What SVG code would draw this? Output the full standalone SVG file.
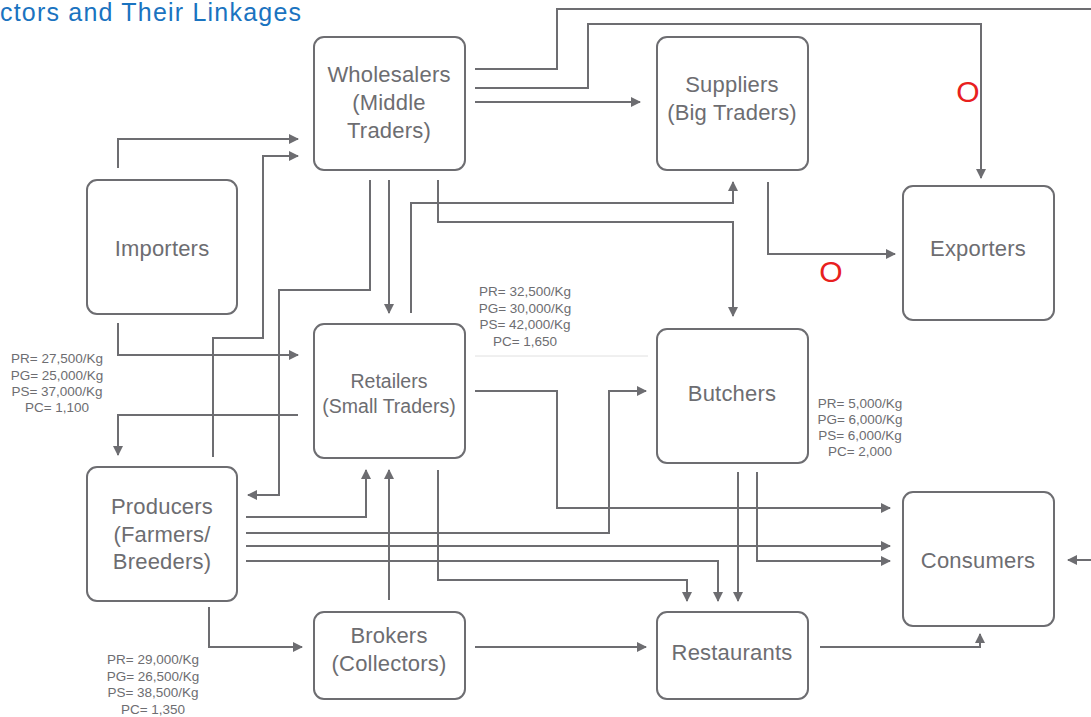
<svg xmlns="http://www.w3.org/2000/svg" width="1091" height="717" viewBox="0 0 1091 717">
<defs>
<marker id="ah" markerWidth="10" markerHeight="10" refX="9" refY="5" orient="auto" markerUnits="userSpaceOnUse">
<path d="M0,0 L10,5 L0,10 Z" fill="#6d6d71"/>
</marker>
<style>
.box{fill:#fff;stroke:#6d6d71;stroke-width:2}
.lbl{font-family:"Liberation Sans",Arial,sans-serif;font-size:22px;fill:#6d6d71;text-anchor:middle;letter-spacing:0.2px}
.sm{font-family:"Liberation Sans",Arial,sans-serif;font-size:13.5px;fill:#6d6d71;text-anchor:middle}
.con path{fill:none;stroke:#6d6d71;stroke-width:2}
.red{font-family:"Liberation Sans",Arial,sans-serif;font-size:30px;fill:#e8201e;text-anchor:middle}
</style>
</defs>
<rect width="1091" height="717" fill="#fff"/>
<text x="0" y="21" font-family="'Liberation Sans',Arial,sans-serif" font-size="25" fill="#1a73c0" textLength="301" lengthAdjust="spacing">ctors and Their Linkages</text>

<g class="con">
<path d="M475,69 H557 V9 H1091"/>
<path d="M475,88 H588 V24 H981 V178" marker-end="url(#ah)"/>
<path d="M475,102 H640" marker-end="url(#ah)"/>
<path d="M768,182 V254 H895" marker-end="url(#ah)"/>
<path d="M118,168 V139 H298" marker-end="url(#ah)"/>
<path d="M213,457 V338 H263 V156 H298" marker-end="url(#ah)"/>
<path d="M370,180 V290 H279 V495 H248" marker-end="url(#ah)"/>
<path d="M389,180 V313" marker-end="url(#ah)"/>
<path d="M411,313 V203 H733 V182" marker-end="url(#ah)"/>
<path d="M438,180 V222 H733 V316" marker-end="url(#ah)"/>
<path d="M118,323 V355 H298" marker-end="url(#ah)"/>
<path d="M298,415 H118 V455" marker-end="url(#ah)"/>
<path d="M475,391 H557 V508 H890" marker-end="url(#ah)"/>
<path d="M246,533 H609 V391 H646" marker-end="url(#ah)"/>
<path d="M246,517 H366 V470" marker-end="url(#ah)"/>
<path d="M246,546 H890" marker-end="url(#ah)"/>
<path d="M246,561 H718 V601" marker-end="url(#ah)"/>
<path d="M438,470 V580 H687 V601" marker-end="url(#ah)"/>
<path d="M738,472 V601" marker-end="url(#ah)"/>
<path d="M757,472 V561 H890" marker-end="url(#ah)"/>
<path d="M389,600 V470" marker-end="url(#ah)"/>
<path d="M209,607 V647 H302" marker-end="url(#ah)"/>
<path d="M475,647 H646" marker-end="url(#ah)"/>
<path d="M820,647 H980 V634" marker-end="url(#ah)"/>
<path d="M1091,560 H1068" marker-end="url(#ah)"/>
<line x1="475" y1="356" x2="648" y2="356" stroke="#e0e0e0" stroke-width="1"/>
</g>

<g id="wholesalers"><rect class="box" x="314" y="37" width="151" height="133" rx="10"/>
<text class="lbl" x="389" y="82">Wholesalers</text><text class="lbl" x="389" y="110">(Middle</text><text class="lbl" x="389" y="138">Traders)</text></g>
<g id="suppliers"><rect class="box" x="657" y="37" width="151" height="133" rx="10"/>
<text class="lbl" x="732" y="92">Suppliers</text><text class="lbl" x="732" y="120">(Big Traders)</text></g>
<g id="importers"><rect class="box" x="87" y="180" width="150" height="134" rx="10"/>
<text class="lbl" x="162" y="256">Importers</text></g>
<g id="exporters"><rect class="box" x="903" y="186" width="151" height="134" rx="10"/>
<text class="lbl" x="978" y="256">Exporters</text></g>
<g id="retailers"><rect class="box" x="314" y="324" width="151" height="134" rx="10"/>
<text class="lbl" x="389" y="388" style="font-size:19.5px;letter-spacing:0">Retailers</text><text class="lbl" x="389" y="413" style="font-size:19.5px;letter-spacing:0">(Small Traders)</text></g>
<g id="butchers"><rect class="box" x="657" y="329" width="151" height="134" rx="10"/>
<text class="lbl" x="732" y="401">Butchers</text></g>
<g id="producers"><rect class="box" x="87" y="467" width="150" height="134" rx="10"/>
<text class="lbl" x="162" y="514">Producers</text><text class="lbl" x="162" y="542">(Farmers/</text><text class="lbl" x="162" y="569">Breeders)</text></g>
<g id="consumers"><rect class="box" x="903" y="492" width="151" height="134" rx="10"/>
<text class="lbl" x="978" y="568">Consumers</text></g>
<g id="brokers"><rect class="box" x="314" y="612" width="151" height="87" rx="10"/>
<text class="lbl" x="389" y="643">Brokers</text><text class="lbl" x="389" y="671">(Collectors)</text></g>
<g id="restaurants"><rect class="box" x="657" y="612" width="151" height="87" rx="10"/>
<text class="lbl" x="732" y="660">Restaurants</text></g>

<g id="price-left">
<text class="sm" x="57" y="363">PR= 27,500/Kg</text><text class="sm" x="57" y="380">PG= 25,000/Kg</text><text class="sm" x="57" y="396">PS= 37,000/Kg</text><text class="sm" x="57" y="412">PC= 1,100</text></g>
<g id="price-mid">
<text class="sm" x="525" y="296">PR= 32,500/Kg</text><text class="sm" x="525" y="313">PG= 30,000/Kg</text><text class="sm" x="525" y="329">PS= 42,000/Kg</text><text class="sm" x="525" y="346">PC= 1,650</text></g>
<g id="price-butchers">
<text class="sm" x="860" y="408">PR= 5,000/Kg</text><text class="sm" x="860" y="424">PG= 6,000/Kg</text><text class="sm" x="860" y="440">PS= 6,000/Kg</text><text class="sm" x="860" y="456">PC= 2,000</text></g>
<g id="price-bottom">
<text class="sm" x="153" y="664">PR= 29,000/Kg</text><text class="sm" x="153" y="681">PG= 26,500/Kg</text><text class="sm" x="153" y="697">PS= 38,500/Kg</text><text class="sm" x="153" y="714">PC= 1,350</text></g>

<text class="red" x="968" y="102">O</text>
<text class="red" x="831" y="282">O</text>
</svg>
